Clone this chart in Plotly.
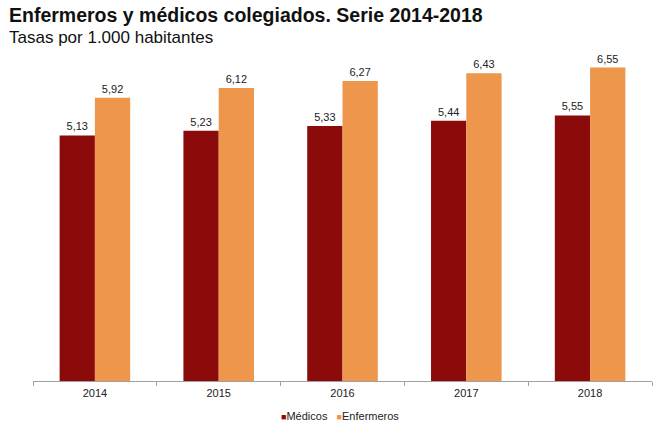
import plotly.graph_objects as go

years = ["2014", "2015", "2016", "2017", "2018"]
medicos = [5.13, 5.23, 5.33, 5.44, 5.55]
enfermeros = [5.92, 6.12, 6.27, 6.43, 6.55]
series_names = ["Médicos", "Enfermeros"]
colors = ["#8B0B0B", "#EE964B"]

W, H = 670, 433
ml, mr, mt, mb = 33, 18, 46, 52
ph = H - mt - mb
pw = W - ml - mr

fig = go.Figure()
for name, vals, col in zip(series_names, [medicos, enfermeros], colors):
    fig.add_bar(name=name, x=years, y=vals, marker_color=col, marker_line_width=0,
                texttemplate="%{y:.2f}", textposition="outside",
                textfont=dict(size=11, color="#222"), cliponaxis=False)

def py(pix):
    return 1 + (mt - pix) / ph

def px(pix):
    return (pix - ml) / pw

legend_text = "   ".join(
    f"<span style='color:{c};font-size:9px'>■</span>{n}" for n, c in zip(series_names, colors)
)

fig.update_layout(
    width=W, height=H,
    margin=dict(l=ml, r=mr, t=mt, b=mb),
    paper_bgcolor="white", plot_bgcolor="white",
    font=dict(family="Liberation Sans, Arial, sans-serif", color="#222"),
    separators=",.",
    barmode="group", bargap=0.43, bargroupgap=0.0,
    showlegend=False,
    xaxis=dict(showline=True, linecolor="#A0A0A0", linewidth=1,
               ticks="outside", tickson="boundaries", ticklen=4, tickcolor="#A0A0A0",
               ticklabelstandoff=2,
               tickfont=dict(size=11, color="#222"), showgrid=False),
    yaxis=dict(range=[0, 7], visible=False, showgrid=False, zeroline=False),
    annotations=[
        dict(text="<b>Enfermeros y médicos colegiados. Serie 2014-2018</b>",
             xref="paper", yref="paper", x=px(7), y=py(15), xanchor="left", yanchor="middle",
             showarrow=False, font=dict(size=19.5, color="#111")),
        dict(text="Tasas por 1.000 habitantes",
             xref="paper", yref="paper", x=px(7), y=py(37), xanchor="left", yanchor="middle",
             showarrow=False, font=dict(size=17, color="#111")),
        dict(text=legend_text,
             xref="paper", yref="paper", x=px(340), y=py(416), xanchor="center", yanchor="middle",
             showarrow=False, font=dict(size=11, color="#222")),
    ],
)

fig.write_html("out.html")
